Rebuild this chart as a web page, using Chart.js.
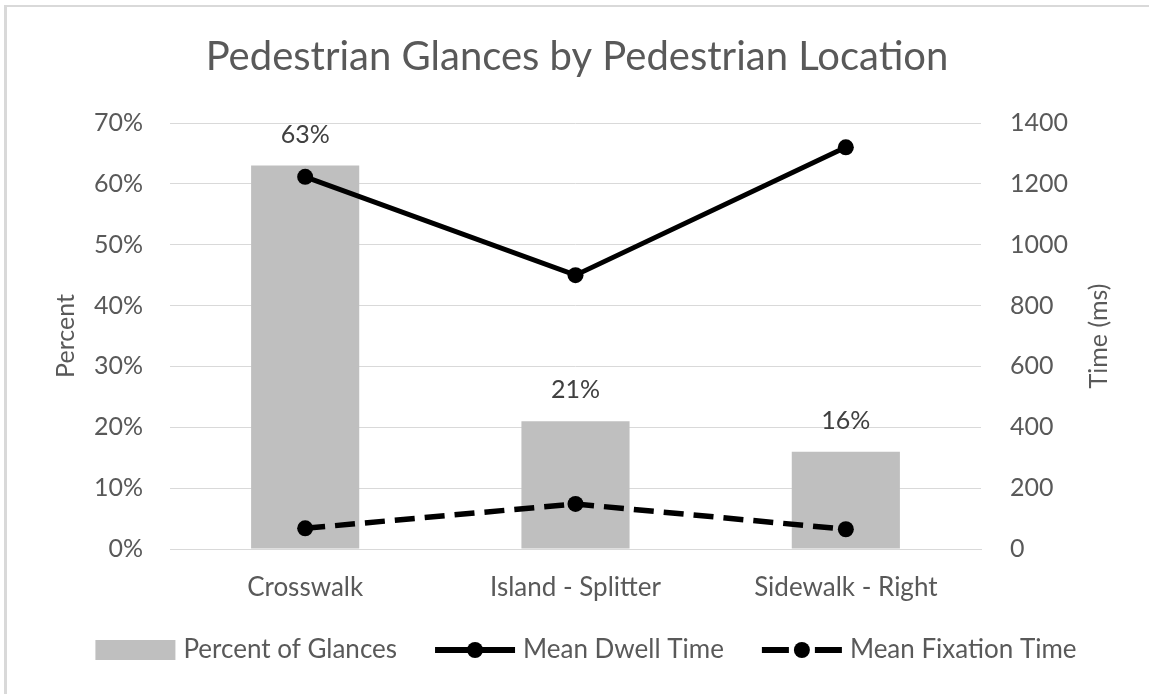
<!DOCTYPE html>
<html><head><meta charset="utf-8">
<script src="https://cdn.jsdelivr.net/npm/chart.js@4.4.1/dist/chart.umd.min.js"></script>
<style>html,body{margin:0;padding:0;background:#fff;overflow:hidden}#wrap{width:1149px;height:694px;position:relative}</style>
</head><body><div id="wrap"><canvas id="c" width="1149" height="694"></canvas></div>
<script>
const categories = ['Crosswalk', 'Island - Splitter', 'Sidewalk - Right'];
const percentGlances = [63, 21, 16];
const meanDwellTime = [1223, 900, 1320];
const meanFixationTime = [68, 148, 65];
const leftTickLabels = ['0%', '10%', '20%', '30%', '40%', '50%', '60%', '70%'];
const rightTickLabels = ['0', '200', '400', '600', '800', '1000', '1200', '1400'];
const seriesNames = ['Percent of Glances', 'Mean Dwell Time', 'Mean Fixation Time'];

const FONT = 'Lato, "Open Sans", sans-serif';
const TXT = '#595959';
const GRID = '#D9D9D9';

const framePlugin = {
  id: 'frame',
  beforeDraw(chart) {
    const c = chart.ctx;
    c.save();
    c.fillStyle = '#fff';
    c.fillRect(0, 0, chart.width, chart.height);
    c.fillStyle = '#D9D9D9';
    c.fillRect(4, 5, chart.width - 4, 2);
    c.fillRect(4, 5, 3, chart.height - 5);
    c.restore();
  }
};

const labelsPlugin = {
  id: 'barLabels',
  afterDatasetsDraw(chart) {
    const c = chart.ctx;
    const idx = chart.data.datasets.findIndex(d => d.type === 'bar');
    const meta = chart.getDatasetMeta(idx);
    c.save();
    c.font = '25px ' + FONT;
    c.fillStyle = '#404040';
    c.textAlign = 'center';
    c.textBaseline = 'alphabetic';
    meta.data.forEach((el, i) => {
      c.fillText(percentGlances[i] + '%', el.x, el.y - 23);
    });
    c.restore();
  }
};

const rightTitlePlugin = {
  id: 'rightTitle',
  afterDraw(chart) {
    const c = chart.ctx;
    const s = chart.scales.y1;
    c.save();
    c.font = '25px ' + FONT;
    c.fillStyle = TXT;
    c.textAlign = 'center';
    c.textBaseline = 'middle';
    c.translate(1099, (s.top + s.bottom) / 2);
    c.rotate(-Math.PI / 2);
    c.fillText('Time (ms)', 0, 0);
    c.restore();
  }
};

const legendPlugin = {
  id: 'customLegend',
  afterDraw(chart) {
    const c = chart.ctx;
    const ds = seriesNames.map(n => chart.data.datasets.find(d => d.label === n));
    c.save();
    c.font = '26px ' + FONT;
    const sym = 80, gapT = 8, gapI = 38;
    const widths = ds.map(d => sym + gapT + c.measureText(d.label).width);
    const total = widths.reduce((a, b) => a + b, 0) + gapI * (ds.length - 1);
    let x = 586 - total / 2;
    const y = 650;
    ds.forEach((d, i) => {
      if (d.type === 'bar') {
        c.fillStyle = d.backgroundColor;
        c.fillRect(x, y - 10, sym, 20);
      } else {
        c.strokeStyle = d.borderColor;
        c.lineWidth = 6;
        c.lineCap = 'butt';
        c.beginPath();
        if (d.borderDash) {
          c.moveTo(x, y); c.lineTo(x + 27, y);
          c.moveTo(x + 53, y); c.lineTo(x + sym, y);
        } else {
          c.moveTo(x, y); c.lineTo(x + sym, y);
        }
        c.stroke();
        c.fillStyle = d.borderColor;
        c.beginPath();
        c.arc(x + sym / 2, y, d.pointRadius, 0, Math.PI * 2);
        c.fill();
      }
      c.fillStyle = TXT;
      c.textAlign = 'left';
      c.textBaseline = 'middle';
      c.fillText(d.label, x + sym + gapT, y);
      x += widths[i] + gapI;
    });
    c.restore();
  }
};

new Chart(document.getElementById('c'), {
  type: 'bar',
  data: {
    labels: categories,
    datasets: [
      { type: 'line', label: seriesNames[1], data: meanDwellTime, yAxisID: 'y1',
        borderColor: '#000', backgroundColor: '#000', borderWidth: 5,
        pointRadius: 8, pointBackgroundColor: '#000', pointBorderWidth: 0, pointHoverRadius: 8, order: 0 },
      { type: 'line', label: seriesNames[2], data: meanFixationTime, yAxisID: 'y1',
        borderColor: '#000', backgroundColor: '#000', borderWidth: 5.5, borderDash: [20, 10],
        pointRadius: 8, pointBackgroundColor: '#000', pointBorderWidth: 0, pointHoverRadius: 8, order: 1 },
      { type: 'bar', label: seriesNames[0], data: percentGlances, yAxisID: 'y',
        backgroundColor: '#BFBFBF', barPercentage: 0.4, categoryPercentage: 1, order: 2 }
    ]
  },
  options: {
    responsive: false,
    animation: false,
    devicePixelRatio: 1,
    layout: { padding: { left: 5, top: 5, right: 0, bottom: 85 } },
    plugins: {
      legend: { display: false },
      tooltip: { enabled: false },
      title: {
        display: true, text: 'Pedestrian Glances by Pedestrian Location',
        color: TXT, font: { family: FONT, size: 40, weight: 'normal' },
        padding: { top: 28, bottom: 42 }
      }
    },
    scales: {
      x: {
        grid: { display: false },
        border: { display: true, color: GRID, width: 1 },
        ticks: { color: TXT, font: { family: FONT, size: 26 }, padding: 15 },
        afterFit(s) { s.height = 60; }
      },
      y: {
        position: 'left', min: 0, max: 70,
        ticks: { stepSize: 10, color: TXT, font: { family: FONT, size: 25 }, padding: 27,
          callback: (v, i) => leftTickLabels[i] },
        grid: { color: GRID, drawTicks: false, lineWidth: 1 },
        border: { display: false },
        title: { display: true, text: 'Percent', color: TXT, font: { family: FONT, size: 25 }, padding: { top: 46, bottom: 0 } },
        afterFit(s) { s.width = 165; }
      },
      y1: {
        position: 'right', min: 0, max: 1400,
        ticks: { stepSize: 200, color: TXT, font: { family: FONT, size: 25 }, padding: 29,
          callback: (v, i) => rightTickLabels[i] },
        grid: { drawOnChartArea: false, drawTicks: false },
        border: { display: false },
        afterFit(s) { s.width = 168; }
      }
    }
  },
  plugins: [framePlugin, labelsPlugin, rightTitlePlugin, legendPlugin]
});
</script>
</body></html>
